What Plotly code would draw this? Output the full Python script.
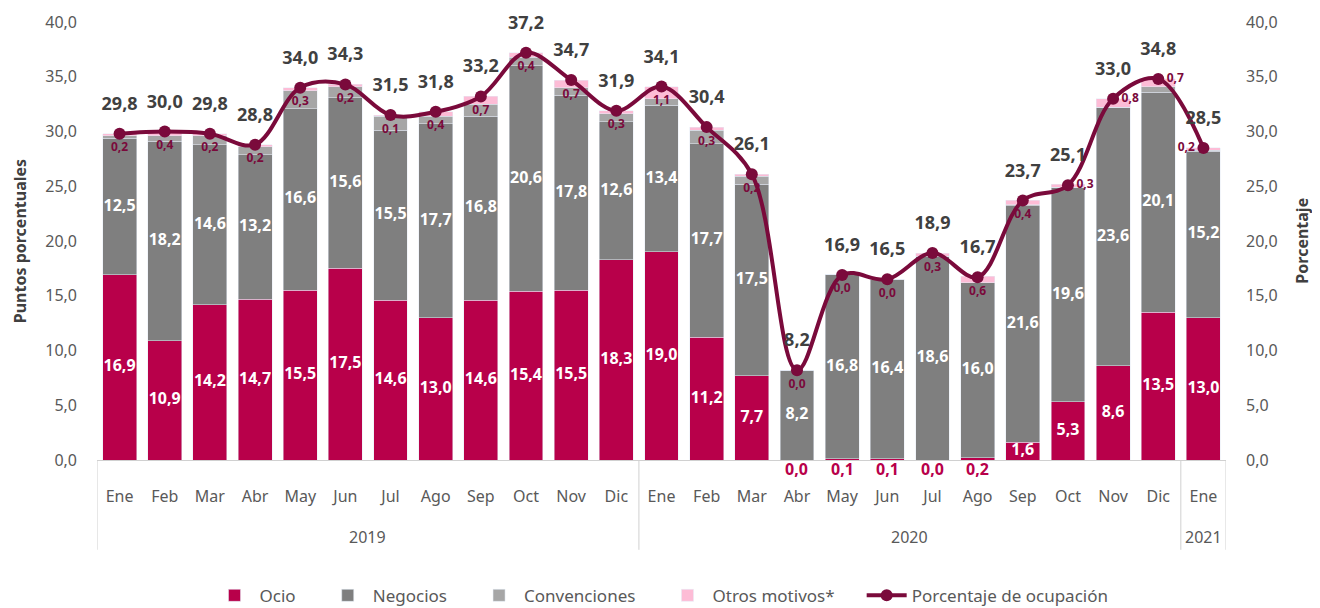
import plotly.graph_objects as go

years = ["2019"] * 12 + ["2020"] * 12 + ["2021"]
months = ["Ene", "Feb", "Mar", "Abr", "May", "Jun", "Jul", "Ago", "Sep", "Oct", "Nov", "Dic",
          "Ene", "Feb", "Mar", "Abr", "May", "Jun", "Jul", "Ago", "Sep", "Oct", "Nov", "Dic",
          "Ene"]

ocio = [16.9, 10.9, 14.2, 14.7, 15.5, 17.5, 14.6, 13.0, 14.6, 15.4, 15.5, 18.3,
        19.0, 11.2, 7.7, 0.0, 0.1, 0.1, 0.0, 0.2, 1.6, 5.3, 8.6, 13.5, 13.0]
negocios = [12.5, 18.2, 14.6, 13.2, 16.6, 15.6, 15.5, 17.7, 16.8, 20.6, 17.8, 12.6,
            13.4, 17.7, 17.5, 8.2, 16.8, 16.4, 18.6, 16.0, 21.6, 19.6, 23.6, 20.1, 15.2]
otros = [0.2, 0.4, 0.2, 0.2, 0.3, 0.2, 0.1, 0.4, 0.7, 0.4, 0.7, 0.3,
         1.1, 0.3, 0.2, 0.0, 0.0, 0.0, 0.3, 0.6, 0.4, 0.3, 0.8, 0.7, 0.2]
ocupacion = [29.8, 30.0, 29.8, 28.8, 34.0, 34.3, 31.5, 31.8, 33.2, 37.2, 34.7, 31.9,
             34.1, 30.4, 26.1, 8.2, 16.9, 16.5, 18.9, 16.7, 23.7, 25.1, 33.0, 34.8, 28.5]
convenciones = [0.2, 0.5, 0.8, 0.7, 1.6, 1.0, 1.3, 0.7, 1.1, 0.8, 0.7, 0.7,
                0.6, 1.2, 0.7, 0.0, 0.0, 0.0, 0.0, 0.0, 0.1, 0.0, 0.0, 0.5, 0.1]

y_ticks = [0, 5, 10, 15, 20, 25, 30, 35, 40]

C_OCIO = "#B8004A"
C_NEG = "#7F7F7F"
C_CONV = "#A6A6A6"
C_OTROS = "#FDBCD6"
C_LINE = "#7A0A3B"
C_DIV = "#D0D0D0"
FONT = "Noto Sans"
PAD = "\u00a0" * 5


def fmt(v):
    return f"{v:.1f}".replace(".", ",")


n = len(months)
x = list(range(n))
fig = go.Figure()

fig.add_trace(go.Bar(x=x, y=ocio, name="Ocio" + PAD, marker_color=C_OCIO))
fig.add_trace(go.Bar(x=x, y=negocios, name="Negocios" + PAD, marker_color=C_NEG))
fig.add_trace(go.Bar(x=x, y=convenciones, name="Convenciones" + PAD, marker_color=C_CONV))
fig.add_trace(go.Bar(x=x, y=otros, name="Otros motivos*" + PAD, marker_color=C_OTROS))

# Ocio labels inside bars (large values)
big = [i for i, v in enumerate(ocio) if v >= 1]
small = [i for i, v in enumerate(ocio) if v < 1]
fig.add_trace(go.Scatter(
    x=big, y=[max(ocio[i] / 2, 0.6) for i in big],
    text=[fmt(ocio[i]) for i in big], mode="text",
    textfont=dict(family=FONT, size=16, color="white", weight="bold"),
    showlegend=False, hoverinfo="skip", cliponaxis=False))

# Negocios labels
fig.add_trace(go.Scatter(
    x=x, y=[o + v / 2 for o, v in zip(ocio, negocios)],
    text=[fmt(v) for v in negocios], mode="text",
    textfont=dict(family=FONT, size=16, color="white", weight="bold"),
    showlegend=False, hoverinfo="skip"))

# Occupancy line
fig.add_trace(go.Scatter(
    x=x, y=ocupacion, name="Porcentaje de ocupación", yaxis="y2",
    mode="lines+markers", line=dict(color=C_LINE, width=4, shape="spline", smoothing=1),
    marker=dict(color=C_LINE, size=12)))

# Otros labels
pos = ["bottom center"] * 21 + ["middle right", "middle right", "middle right", "middle left"]
fig.add_trace(go.Scatter(
    x=x, y=ocupacion, yaxis="y2", text=[fmt(v) for v in otros], mode="markers+text",
    marker=dict(size=12, opacity=0), textposition=pos,
    textfont=dict(family=FONT, size=12, color=C_LINE, weight="bold"),
    showlegend=False, hoverinfo="skip", cliponaxis=False))

# Total labels
fig.add_trace(go.Scatter(
    x=x, y=[v + 2.6 for v in ocupacion], yaxis="y2", text=[fmt(v) for v in ocupacion],
    mode="text", textfont=dict(family=FONT, size=18, color="#404040", weight="bold"),
    showlegend=False, hoverinfo="skip", cliponaxis=False))

# Year group labels and dividers
groups = []
for i, yv in enumerate(years):
    if not groups or groups[-1][0] != yv:
        groups.append([yv, i, i])
    else:
        groups[-1][2] = i
shapes = []
annotations = []
bounds = sorted({g[1] - 0.5 for g in groups} | {g[2] + 0.5 for g in groups})
for b in bounds:
    shapes.append(dict(type="line", xref="x", yref="paper", x0=b, x1=b, y0=0, y1=-0.205,
                       line=dict(color=C_DIV, width=1)))
for yv, i0, i1 in groups:
    annotations.append(dict(x=(i0 + i1) / 2, y=-0.176, xref="x", yref="paper", text=yv,
                            showarrow=False, font=dict(family=FONT, size=16, color="#595959"),
                            yanchor="middle"))
# tiny Ocio values shown just below the axis
for i in small:
    annotations.append(dict(x=i, y=0, xref="x", yref="y", yanchor="top", yshift=4,
                            text=f"<b>{fmt(ocio[i])}</b>", showarrow=False,
                            font=dict(family=FONT, size=16, color=C_OCIO)))
annotations.append(dict(x=-0.068, y=0.5, xref="paper", yref="paper", xanchor="center",
                        yanchor="middle",
                        text="<b>Puntos porcentuales</b>", textangle=-90, showarrow=False,
                        font=dict(family=FONT, size=16, color="#404040")))
annotations.append(dict(x=1.067, y=0.5, xref="paper", yref="paper", xanchor="center",
                        yanchor="middle",
                        text="<b>Porcentaje</b>", textangle=-90, showarrow=False,
                        font=dict(family=FONT, size=16, color="#404040")))

tick_text = [fmt(v) for v in y_ticks]
fig.update_layout(
    width=1312, height=600,
    margin=dict(l=89, r=94, t=14, b=148, autoexpand=False),
    paper_bgcolor="white", plot_bgcolor="white",
    barmode="stack", bargap=0.25,
    separators=",.",
    font=dict(family=FONT, size=16, color="#595959"),
    xaxis=dict(range=[-0.5, n - 0.5], tickvals=x, ticktext=months, showline=True,
               linecolor=C_DIV, linewidth=1, showgrid=False, zeroline=False, ticks="",
               tickfont=dict(size=16, color="#595959"), ticklabelstandoff=22,
               automargin=False),
    yaxis=dict(range=[0, 40], tickvals=y_ticks, ticktext=tick_text, showgrid=False,
               zeroline=False, tickfont=dict(size=16, color="#595959"),
               ticklabelstandoff=19, automargin=False),
    yaxis2=dict(range=[0, 40], tickvals=y_ticks, ticktext=tick_text, showgrid=False,
                zeroline=False, overlaying="y", side="right",
                tickfont=dict(size=16, color="#595959"), ticklabelstandoff=19,
                automargin=False),
    shapes=shapes,
    annotations=annotations,
    legend=dict(orientation="h", x=0.5, xanchor="center", y=-0.31, yanchor="middle",
                font=dict(size=17, color="#595959"), traceorder="normal", itemwidth=40),
)

fig.write_html("out.html")
